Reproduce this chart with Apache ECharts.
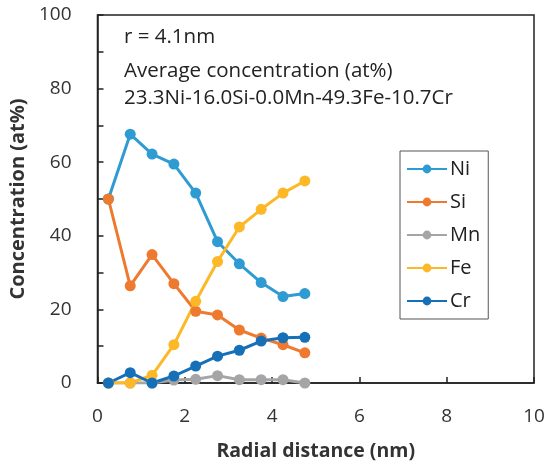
<!DOCTYPE html>
<html><head><meta charset="utf-8">
<script src="https://cdn.jsdelivr.net/npm/echarts@6/dist/echarts.min.js"></script>
<style>html,body{margin:0;padding:0;background:#fff}#c{width:549px;height:466px}</style>
</head><body><div id="c"></div>
<script>
const radial = [0.25, 0.75, 1.25, 1.75, 2.25, 2.75, 3.25, 3.75, 4.25, 4.75];
const ni = [50, 67.6, 62.2, 59.5, 51.6, 38.4, 32.4, 27.3, 23.5, 24.3];
const si = [50, 26.4, 34.9, 27.0, 19.5, 18.5, 14.4, 12.2, 10.4, 8.2];
const mn = [0, 0, 0, 0.8, 1.0, 2.0, 0.9, 0.9, 0.9, 0];
const fe = [0, 0, 2.1, 10.4, 22.2, 33.0, 42.4, 47.2, 51.6, 54.9];
const cr = [0, 2.8, 0, 1.9, 4.6, 7.3, 8.9, 11.4, 12.3, 12.4];
const seriesNames = ['Ni', 'Si', 'Mn', 'Fe', 'Cr'];
const seriesData = [ni, si, mn, fe, cr];
const colors = ['#2F9BD3', '#EE7A2F', '#A5A5A7', '#FDB827', '#1670B8'];
const annotation = ['r = 4.1nm', 'Average concentration (at%)', '23.3Ni-16.0Si-0.0Mn-49.3Fe-10.7Cr'];

const font = '"Open Sans", "Noto Sans", sans-serif';
const chart = echarts.init(document.getElementById('c'));
chart.setOption({
  animation: false,
  textStyle: {fontFamily: font},
  grid: {left: 96, top: 15, right: 15, bottom: 81, show: true, borderColor: '#222', borderWidth: 1.5},
  legend: {
    orient: 'vertical', left: 400, top: 151, width: 93,
    padding: [8, 8, 8, 6],
    borderColor: '#555', borderWidth: 1,
    itemWidth: 40, itemHeight: 11, itemGap: 13,
    textStyle: {fontSize: 20, color: '#222', fontFamily: font, padding: [0, 0, 0, -2]},
    data: seriesNames
  },
  xAxis: {
    type: 'value', min: 0, max: 10, interval: 2,
    name: 'Radial distance (nm)', nameLocation: 'middle', nameGap: 58,
    nameTextStyle: {fontSize: 19.5, fontWeight: 'bold', color: '#333', fontFamily: font},
    axisLine: {lineStyle: {color: '#222', width: 1.5}},
    axisTick: {inside: true, length: 6, lineStyle: {color: '#222', width: 1.5}},
    axisLabel: {fontSize: 19, color: '#333', margin: 24, fontFamily: font},
    splitLine: {show: false}
  },
  yAxis: {
    type: 'value', min: 0, max: 100, interval: 10,
    name: 'Concentration (at%)', nameLocation: 'middle', nameGap: 67,
    nameTextStyle: {fontSize: 20, fontWeight: 'bold', color: '#333', fontFamily: font},
    axisLine: {show: true, lineStyle: {color: '#222', width: 1.5}},
    axisTick: {show: true, inside: true, length: 6, lineStyle: {color: '#222', width: 1.5}},
    axisLabel: {fontSize: 19, color: '#333', margin: 26, fontFamily: font,
      formatter: v => (v % 20 === 0 ? String(v) : '')},
    splitLine: {show: false}
  },
  graphic: annotation.map((t, i) => ({
    type: 'text', left: 124, top: [27, 61, 88][i],
    style: {text: t, font: '20.5px ' + font, fill: '#222'}
  })),
  series: seriesNames.map((n, i) => ({
    name: n, type: 'line',
    data: radial.map((x, j) => [x, seriesData[i][j]]),
    symbol: 'circle', symbolSize: 11,
    itemStyle: {color: colors[i]},
    lineStyle: {color: colors[i], width: 3}
  }))
});
</script></body></html>
